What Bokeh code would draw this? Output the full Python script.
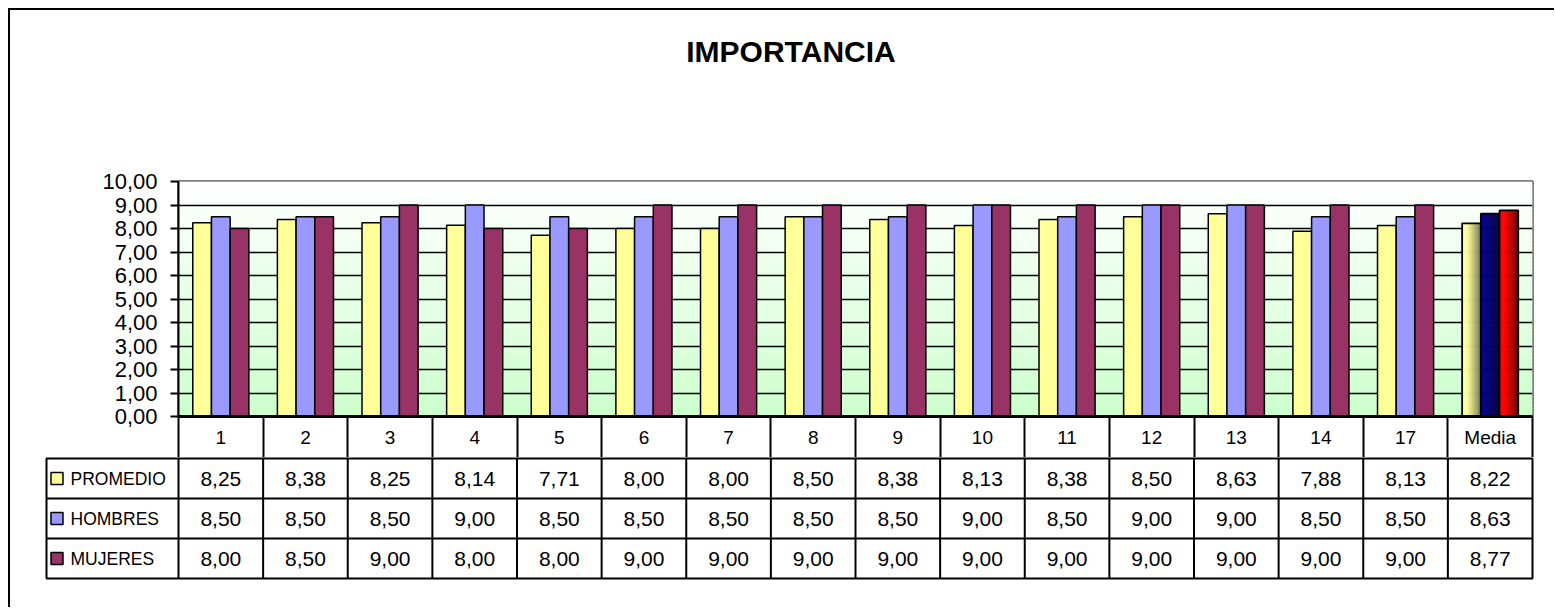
import numpy as np
from bokeh.plotting import figure
from bokeh.layouts import column
from bokeh.models import Range1d, FixedTicker, ColumnDataSource
from bokeh.transform import dodge
from bokeh.embed import file_html
from bokeh.resources import INLINE
from bokeh.core.properties import value

# ---------------- data ----------------
title_text = "IMPORTANCIA"
categories = ["1", "2", "3", "4", "5", "6", "7", "8", "9", "10", "11", "12", "13", "14", "17", "Media"]
series_names = ["PROMEDIO", "HOMBRES", "MUJERES"]
promedio = [8.25, 8.38, 8.25, 8.14, 7.71, 8.00, 8.00, 8.50, 8.38, 8.13, 8.38, 8.50, 8.63, 7.88, 8.13, 8.22]
hombres = [8.50, 8.50, 8.50, 9.00, 8.50, 8.50, 8.50, 8.50, 8.50, 9.00, 8.50, 9.00, 9.00, 8.50, 8.50, 8.63]
mujeres = [8.00, 8.50, 9.00, 8.00, 8.00, 9.00, 9.00, 9.00, 9.00, 9.00, 9.00, 9.00, 9.00, 9.00, 9.00, 8.77]
y_ticks = [0, 1, 2, 3, 4, 5, 6, 7, 8, 9, 10]
y_tick_labels = ["0,00", "1,00", "2,00", "3,00", "4,00", "5,00", "6,00", "7,00", "8,00", "9,00", "10,00"]

# ---------------- style ----------------
FONT = "Liberation Sans"
series_colors = ["#ffff99", "#9999ff", "#993366"]
media_grad = [((255, 255, 160), (120, 120, 75)),
              ((0, 0, 128), (0, 0, 60)),
              ((255, 0, 0), (105, 0, 0))]
bg_bottom = (204, 255, 204)
bg_top = (255, 255, 255)

W = 1544
BORDER_L = 168
BORDER_R = 22
n = len(categories)
frame_w = W - BORDER_L - BORDER_R
ppu = frame_w / n
LABEL_COL_PX = 132
L = LABEL_COL_PX / ppu
BW = 18.7 / ppu
TITLE_H = 80
TOP_H = 447 - TITLE_H
TAB_H = 150
ROW_PX = 40
TITLE_CX = 780.5      # title centre, px from the left of the figures
TITLE_CY = 41         # title centre, px from the top of the chart area

series = [promedio, hombres, mujeres]


def hexc(c):
    return "#%02x%02x%02x" % tuple(int(round(v)) for v in c)


def lerp(a, b, t):
    return tuple(a[i] + (b[i] - a[i]) * t for i in range(3))


# ---------------- title strip ----------------
ttl = figure(width=W, height=TITLE_H, x_range=Range1d(0, W), y_range=Range1d(TITLE_H, 0),
             output_backend="svg", toolbar_location=None,
             x_axis_location=None, y_axis_location=None,
             min_border_left=0, min_border_right=0, min_border_top=0, min_border_bottom=0)
ttl.frame_align = False
ttl.grid.visible = False
ttl.outline_line_color = None
ttl.background_fill_color = "white"
ttl.border_fill_color = "white"
ttl.text(x=[TITLE_CX], y=[TITLE_CY], text=[title_text], text_font=value(FONT),
         text_font_size="30px", text_font_style="bold", text_align="center",
         text_baseline="middle", text_color="black")

# ---------------- chart figure ----------------
p = figure(width=W, height=TOP_H, x_range=Range1d(0, n), y_range=Range1d(0, 10),
           output_backend="svg", toolbar_location=None,
           min_border_left=BORDER_L, min_border_right=BORDER_R,
           min_border_top=171 - TITLE_H, min_border_bottom=41)
p.frame_align = False
p.background_fill_color = "white"
p.border_fill_color = "white"
p.outline_line_color = "black"
p.outline_line_width = 2
p.outline_line_alpha = 1

# gradient background
NB = 60
edges = np.linspace(0, 10, NB + 1)
bg_cols = [hexc(lerp(bg_bottom, bg_top, (edges[i] + edges[i + 1]) / 20)) for i in range(NB)]
p.quad(left=0, right=n, bottom=edges[:-1], top=edges[1:], fill_color=bg_cols,
       line_color=bg_cols, line_width=1, level="image")

# grid
p.xgrid.visible = False
p.ygrid.ticker = FixedTicker(ticks=y_ticks)
p.ygrid.grid_line_color = "black"
p.ygrid.grid_line_width = 1.6

# regular bars
centers = [i + 0.5 for i in range(n)]
src = ColumnDataSource(dict(x=centers[:-1], p=promedio[:-1], h=hombres[:-1], m=mujeres[:-1]))
for k, col in enumerate(["p", "h", "m"]):
    p.vbar(x=dodge("x", (k - 1) * BW, range=p.x_range), top=col, width=BW, bottom=0,
           source=src, fill_color=series_colors[k], line_color="black", line_width=1.5)

# Media bars with horizontal gradient
NS = 24
cx = centers[-1]
for k in range(3):
    val = series[k][-1]
    left = cx + (k - 1) * BW - BW / 2
    ls = [left + j * BW / NS for j in range(NS)]
    rs = [left + (j + 1) * BW / NS for j in range(NS)]
    c0, c1 = media_grad[k]
    cols = []
    for j in range(NS):
        tt = (j + 0.5) / NS
        t2 = max(0.0, (tt - 0.25) / 0.75) ** 1.2
        cols.append(hexc(lerp(c0, c1, t2)))
    p.quad(left=ls, right=rs, bottom=0, top=val, fill_color=cols, line_color=cols, line_width=0.6)
    p.quad(left=[left], right=[left + BW], bottom=[0], top=[val], fill_color=None,
           line_color="black", line_width=1.8)

# y axis
p.yaxis.ticker = FixedTicker(ticks=y_ticks)
p.yaxis.major_label_overrides = dict(zip(y_ticks, y_tick_labels))
p.yaxis.major_label_text_font = FONT
p.yaxis.major_label_text_font_size = "22px"
p.yaxis.major_label_text_color = "black"
p.yaxis.major_tick_out = 8
p.yaxis.major_tick_in = 0
p.yaxis.minor_tick_out = 0
p.yaxis.minor_tick_in = 0
p.yaxis.major_tick_line_width = 2
p.yaxis.major_tick_line_color = "black"
p.yaxis.axis_line_width = 2
p.yaxis.axis_line_color = "black"
p.yaxis.major_label_standoff = 13

# x axis: category row of the data table
p.xaxis.ticker = FixedTicker(ticks=centers, minor_ticks=list(range(n + 1)))
p.xaxis.major_label_overrides = dict(zip(centers, categories))
p.xaxis.major_label_text_font = FONT
p.xaxis.major_label_text_font_size = "19px"
p.xaxis.major_label_text_color = "black"
p.xaxis.major_tick_out = 0
p.xaxis.major_tick_in = 0
p.xaxis.minor_tick_out = 41
p.xaxis.minor_tick_in = 0
p.xaxis.minor_tick_line_color = "black"
p.xaxis.minor_tick_line_width = 2
p.xaxis.axis_line_width = 3
p.xaxis.axis_line_color = "black"
p.xaxis.major_label_standoff = -31

# ---------------- data table figure ----------------
t = figure(width=W, height=TAB_H, x_range=Range1d(-L, n), y_range=Range1d(3, 0),
           output_backend="svg", toolbar_location=None,
           x_axis_location=None, y_axis_location=None,
           min_border_left=BORDER_L - LABEL_COL_PX, min_border_right=BORDER_R,
           min_border_top=1, min_border_bottom=TAB_H - 1 - 3 * ROW_PX)
t.frame_align = False
t.grid.visible = False
t.background_fill_color = "white"
t.border_fill_color = "white"
t.outline_line_color = "black"
t.outline_line_width = 2
t.outline_line_alpha = 1

# horizontal separators
t.segment(x0=[-L, -L], x1=[n, n], y0=[1, 2], y1=[1, 2], line_color="black", line_width=2)
# vertical separators
vx = list(range(n))
t.segment(x0=vx, x1=vx, y0=[0] * len(vx), y1=[3] * len(vx), line_color="black", line_width=2)

rows_y = [r + 0.5 for r in range(3)]
t.scatter(x=[-L + 10.5 / ppu] * 3, y=rows_y, marker="square", size=12,
          fill_color=series_colors, line_color="black", line_width=1.5)
t.text(x=[-L + 24 / ppu] * 3, y=rows_y, text=series_names, text_font=value(FONT),
       text_font_size="17.5px", text_baseline="middle", text_align="left", text_color="black")

vx_txt, vy_txt, vt_txt = [], [], []
for r, vals in enumerate(series):
    for i, v in enumerate(vals):
        vx_txt.append(centers[i])
        vy_txt.append(rows_y[r])
        vt_txt.append(f"{v:.2f}".replace(".", ","))
t.text(x=vx_txt, y=vy_txt, text=vt_txt, text_font=value(FONT), text_font_size="21px",
       text_baseline="middle", text_align="center", text_color="black")

layout = column(ttl, p, t, margin=(8, 0, 0, 8),
                styles={"border-left": "2px solid black", "border-top": "2px solid black"})

open("out.html", "w").write(file_html(layout, INLINE))
